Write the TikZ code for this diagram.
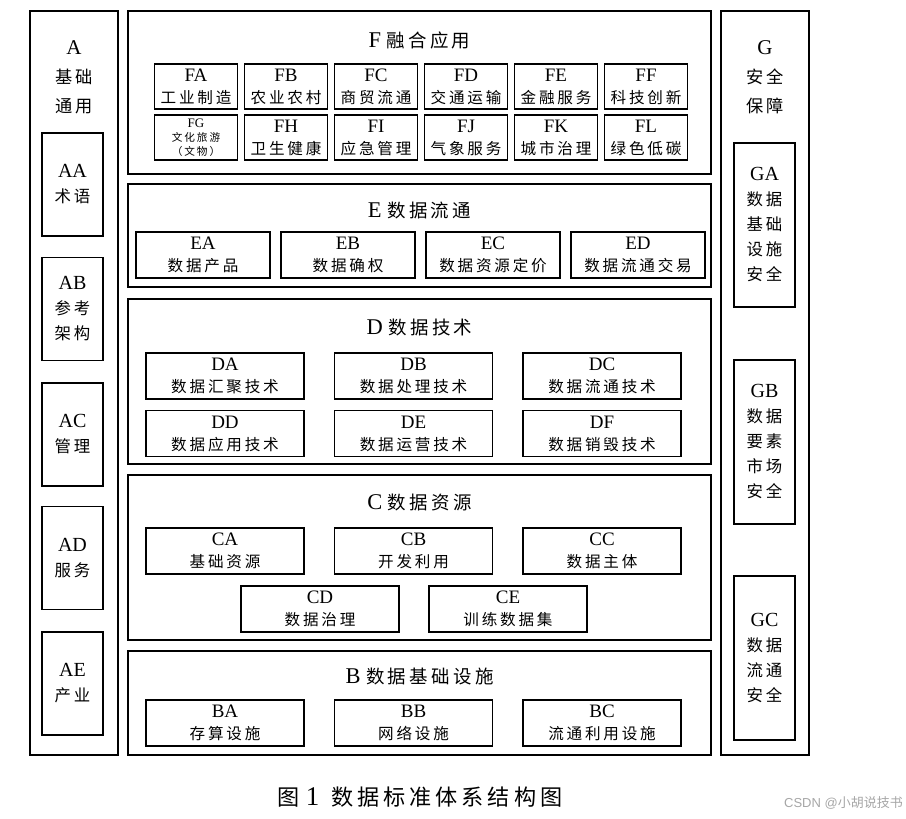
\documentclass[tikz,border=0pt]{standalone}
\usepackage{fontspec}
\setmainfont{Liberation Serif}
\newfontfamily\cjk{Noto Sans CJK SC}[LetterSpace=18,Scale=0.82]
\newfontfamily\wmcjk{Noto Sans CJK SC}
\newfontfamily\wmsans{Liberation Sans}
\newcommand\zh[1]{{\cjk #1}}

\tikzset{
  layerbox/.style={draw, line width=1.6pt, inner sep=0pt},
  cellbox/.style={draw, line width=1.1pt, inner sep=0pt, align=center,
    font=\fontsize{19}{22}\selectfont},
  sidebox/.style={draw, line width=1.1pt, inner sep=0pt, align=center,
    minimum width=61, font=\fontsize{20}{25}\selectfont},
  titletext/.style={inner sep=0pt, font=\fontsize{22.5}{26}\selectfont},
  sidetitle/.style={inner sep=0pt, align=center, font=\fontsize{21}{29}\selectfont}
}

\begin{document}
\begin{tikzpicture}[x=1pt, y=-1pt]
  \useasboundingbox (0,0) rectangle (906,819);

  % 左列 A 基础通用
  \node[layerbox, minimum width=88, minimum height=744] (A) at (74,383) {};
  \node[sidetitle] (Atitle) at (74,77) {A\\\zh{基础}\\\zh{通用}};
  \node[sidebox, minimum height=103] (AA) at (72.5,184.5) {AA\\\zh{术语}};
  \node[sidebox, minimum height=103] (AB) at (72.5,309) {AB\\\zh{参考}\\\zh{架构}};
  \node[sidebox, minimum height=103] (AC) at (72.5,434.5) {AC\\\zh{管理}};
  \node[sidebox, minimum height=103] (AD) at (72.5,558) {AD\\\zh{服务}};
  \node[sidebox, minimum height=103] (AE) at (72.5,683.5) {AE\\\zh{产业}};

  % 右列 G 安全保障
  \node[layerbox, minimum width=88, minimum height=744] (G) at (765,383) {};
  \node[sidetitle] (Gtitle) at (765,77) {G\\\zh{安全}\\\zh{保障}};
  \node[sidebox, minimum height=164] (GA) at (764.5,225)
    {GA\\\zh{数据}\\\zh{基础}\\\zh{设施}\\\zh{安全}};
  \node[sidebox, minimum height=164] (GB) at (764.5,442)
    {GB\\\zh{数据}\\\zh{要素}\\\zh{市场}\\\zh{安全}};
  \node[sidebox, minimum height=164] (GC) at (764.5,658)
    {GC\\\zh{数据}\\\zh{流通}\\\zh{安全}};

  % F 融合应用
  \node[layerbox, minimum width=583, minimum height=163] (F) at (419.5,92.5) {};
  \node[titletext] (Ftitle) at (419.5,40) {F \zh{融合应用}};
  \foreach \n/\txt [count=\i] in {FA/工业制造, FB/农业农村, FC/商贸流通,
                                  FD/交通运输, FE/金融服务, FF/科技创新}
    \node[cellbox, minimum width=83, minimum height=45] (\n)
      at ({196+90*(\i-1)},86.5) {\n\\\zh{\txt}};
  \node[cellbox, minimum width=83, minimum height=45,
        font=\fontsize{13}{14}\selectfont] (FG) at (196,137.5)
    {FG\\\zh{文化旅游}\\\zh{（文物）}};
  \foreach \n/\txt [count=\i] in {FH/卫生健康, FI/应急管理, FJ/气象服务,
                                  FK/城市治理, FL/绿色低碳}
    \node[cellbox, minimum width=83, minimum height=45] (\n)
      at ({286+90*(\i-1)},137.5) {\n\\\zh{\txt}};

  % E 数据流通
  \node[layerbox, minimum width=583, minimum height=103] (E) at (419.5,235.5) {};
  \node[titletext] (Etitle) at (419.5,211) {E \zh{数据流通}};
  \foreach \n/\txt [count=\i] in {EA/数据产品, EB/数据确权, EC/数据资源定价,
                                  ED/数据流通交易}
    \node[cellbox, minimum width=134, minimum height=46] (\n)
      at ({203+145*(\i-1)},255) {\n\\\zh{\txt}};

  % D 数据技术
  \node[layerbox, minimum width=583, minimum height=165] (D) at (419.5,381.5) {};
  \node[titletext] (Dtitle) at (419.5,328) {D \zh{数据技术}};
  \foreach \n/\txt [count=\i] in {DA/数据汇聚技术, DB/数据处理技术, DC/数据流通技术}
    \node[cellbox, minimum width=158, minimum height=46] (\n)
      at ({225+188.5*(\i-1)},376) {\n\\\zh{\txt}};
  \foreach \n/\txt [count=\i] in {DD/数据应用技术, DE/数据运营技术, DF/数据销毁技术}
    \node[cellbox, minimum width=158, minimum height=46] (\n)
      at ({225+188.5*(\i-1)},433.5) {\n\\\zh{\txt}};

  % C 数据资源
  \node[layerbox, minimum width=583, minimum height=165] (C) at (419.5,557.5) {};
  \node[titletext] (Ctitle) at (419.5,503) {C \zh{数据资源}};
  \foreach \n/\txt [count=\i] in {CA/基础资源, CB/开发利用, CC/数据主体}
    \node[cellbox, minimum width=158, minimum height=46] (\n)
      at ({225+188.5*(\i-1)},551) {\n\\\zh{\txt}};
  \node[cellbox, minimum width=158, minimum height=46] (CD) at (320,609)
    {CD\\\zh{数据治理}};
  \node[cellbox, minimum width=158, minimum height=46] (CE) at (508,609)
    {CE\\\zh{训练数据集}};

  % B 数据基础设施
  \node[layerbox, minimum width=583, minimum height=104] (B) at (419.5,703) {};
  \node[titletext] (Btitle) at (419.5,677) {B \zh{数据基础设施}};
  \foreach \n/\txt [count=\i] in {BA/存算设施, BB/网络设施, BC/流通利用设施}
    \node[cellbox, minimum width=158, minimum height=46] (\n)
      at ({225+188.5*(\i-1)},723) {\n\\\zh{\txt}};

  % 图题与水印
  \node[inner sep=0pt, font=\fontsize{27}{29}\selectfont] (caption) at (420,797)
    {\zh{图}\hspace{6pt}1\hspace{12pt}\zh{数据标准体系结构图}};
  \node[inner sep=0pt, anchor=east, text=black!35, font=\fontsize{13}{15}\selectfont]
    (mark) at (903,803) {\wmsans CSDN @{\wmcjk 小胡说技书}};
\end{tikzpicture}
\end{document}
